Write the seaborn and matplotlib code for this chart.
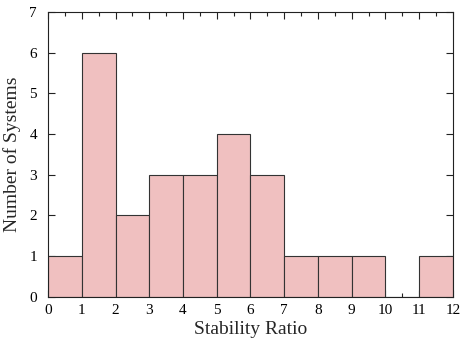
import matplotlib
matplotlib.use("Agg")
import matplotlib.pyplot as plt
import numpy as np
import seaborn as sns
from matplotlib.ticker import MultipleLocator

# Histogram data
bin_edges = [0, 1, 2, 3, 4, 5, 6, 7, 8, 9, 10, 11, 12]
counts = [1, 6, 2, 3, 3, 4, 3, 1, 1, 1, 0, 1]

centres = [(a + b) / 2 for a, b in zip(bin_edges[:-1], bin_edges[1:])]

sns.set_style("ticks")
plt.rcParams["font.family"] = ["Liberation Serif", "DejaVu Serif"]

fig = plt.figure(figsize=(4.63, 3.42), dpi=100)
ax = fig.add_axes([0.104, 0.132, 0.874, 0.833])

sns.histplot(
    x=centres,
    weights=counts,
    bins=bin_edges,
    color="#f0c0c0",
    edgecolor="#333333",
    linewidth=0.8,
    alpha=1.0,
    ax=ax,
)

ax.set_xlim(0, 12)
ax.set_ylim(0, 7)
ax.xaxis.set_major_locator(MultipleLocator(1))
ax.xaxis.set_minor_locator(MultipleLocator(0.5))
ax.yaxis.set_major_locator(MultipleLocator(1))
ax.tick_params(axis="both", which="both", direction="in", top=True, right=True,
               labelsize=11, color="#222222", labelcolor="black")
ax.tick_params(which="major", length=5, width=0.8)
ax.tick_params(which="minor", length=3, width=0.8)
ax.tick_params(axis="x", pad=5)
ax.tick_params(axis="y", pad=8)
for sp in ax.spines.values():
    sp.set_color("#222222")
    sp.set_linewidth(0.8)

ax.set_xlabel("Stability Ratio", fontsize=14, labelpad=3)
ax.set_ylabel("Number of Systems", fontsize=14, labelpad=6)

fig.savefig("out.png", dpi=100)
